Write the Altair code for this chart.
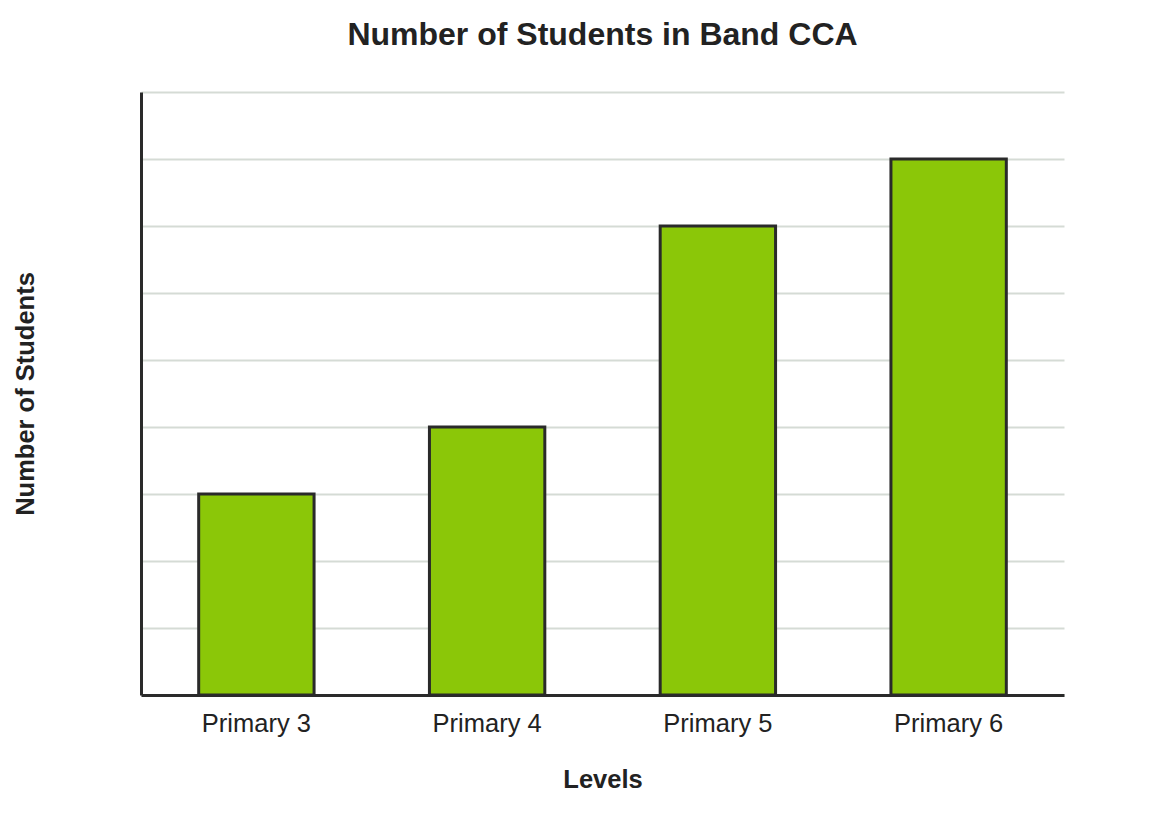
import altair as alt
import pandas as pd

levels = ["Primary 3", "Primary 4", "Primary 5", "Primary 6"]
students = [3, 4, 7, 8]
grid_values = [0, 1, 2, 3, 4, 5, 6, 7, 8, 9]

df = pd.DataFrame({"Levels": levels, "Students": students})

FONT = "Liberation Sans"

chart = alt.Chart(df).mark_bar(
    color="#8bc708", stroke="#2a2a2a", strokeWidth=3
).encode(
    x=alt.X("Levels:N", sort=levels, title="Levels",
            scale=alt.Scale(paddingInner=0.5, paddingOuter=0.25),
            axis=alt.Axis(labelAngle=0, ticks=False, domainWidth=3, domainColor="#2a2a2a",
                          labelFontSize=25.5, labelColor="#222222", labelPadding=16,
                          titleFontSize=25.5, titleFontWeight="bold", titleColor="#222222",
                          titlePadding=31, labelFont=FONT, titleFont=FONT)),
    y=alt.Y("Students:Q", title="Number of Students",
            scale=alt.Scale(domain=[0, 9], nice=False),
            axis=alt.Axis(labels=False, ticks=False, values=grid_values,
                          domainWidth=3, domainColor="#2a2a2a",
                          gridColor="#d5dbd5", gridWidth=2,
                          titleFontSize=25.5, titleFontWeight="bold", titleColor="#222222",
                          titlePadding=103, titleFont=FONT)),
).properties(
    width=923, height=603,
    padding={"top": 11, "left": 5, "right": 5, "bottom": 5},
    title=alt.TitleParams("Number of Students in Band CCA", fontSize=32, font=FONT,
                          fontWeight="bold", color="#222222", offset=40, anchor="middle"),
).configure_view(stroke=None)

chart.save("out.html", embed_options={"renderer": "svg", "actions": False})
